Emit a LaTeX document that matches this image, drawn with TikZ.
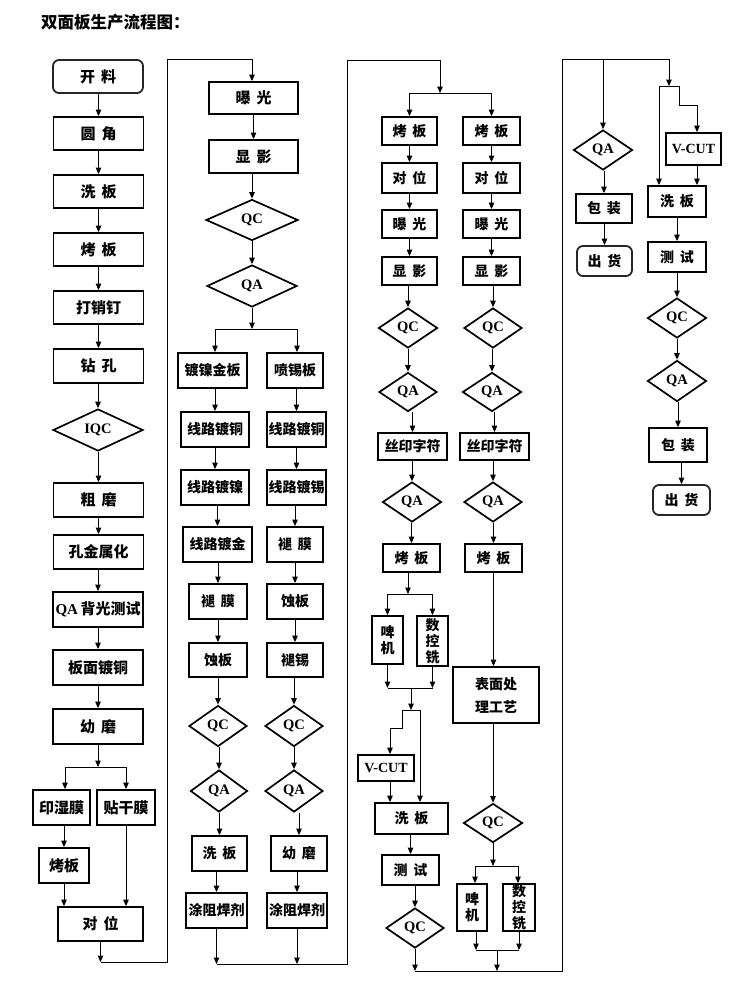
\documentclass[tikz,border=0pt]{standalone}
\usepackage{fontspec}
\setmainfont{Liberation Serif}
\newfontfamily\cjk{Noto Sans CJK SC}
\usetikzlibrary{shapes.geometric,arrows.meta}
\newcommand\ksp{\hspace{6pt}}
\newcommand\mybox[7]{\node[#1,minimum width=#5pt,minimum height=#6pt] (#2) at (#3,#4) {#7};}
\newcommand\mydia[6]{\node[dia,minimum width=#4pt,minimum height=#5pt] (#1) at (#2,#3) {#6};}
\newcommand\vdown[2]{\draw[arr] (#2.north |- #1.south) -- (#2.north);}
\tikzset{
 bx/.style={draw, line width=1.8pt, inner sep=0pt, align=center,
   font=\cjk\bfseries\fontsize{14}{16}\selectfont},
 bxa/.style={bx, font=\cjk\bfseries\fontsize{15}{17}\selectfont},
 rbx/.style={bx, rounded corners=6pt, draw=black!85},
 rbxa/.style={bxa, rounded corners=6pt, draw=black!85},
 lbx/.style={bx, font=\rmfamily\bfseries\fontsize{14}{16}\selectfont},
 dia/.style={diamond, draw, line width=1.7pt, inner sep=0pt,
   font=\rmfamily\bfseries\fontsize{14.5}{16}\selectfont},
 ln/.style={line width=1pt},
 arr/.style={line width=1pt, -{Triangle[length=6.5pt,width=5.5pt]}},
}
\begin{document}
\begin{tikzpicture}[x=1pt,y=-1pt]
\useasboundingbox[fill=white] (0,0) rectangle (750,989);
\node[anchor=west, inner sep=0pt, font=\cjk\bfseries\fontsize{16.5}{19}\selectfont] (title) at (41,22) {双面板生产流程图：};

% ---------------- column 1
\mybox{rbxa}{kl}{98}{76.5}{90}{33}{开\ksp 料}
\mybox{bxa}{yj}{98.5}{133.5}{90}{33}{圆\ksp 角}
\mybox{bxa}{xb1}{98.5}{191.5}{90}{33}{洗\ksp 板}
\mybox{bxa}{kb1}{98.5}{249.5}{90}{33}{烤\ksp 板}
\mybox{bxa}{dxd}{98.5}{307.5}{90}{33}{打销钉}
\mybox{bxa}{zk}{98.5}{366}{90}{34}{钻\ksp 孔}
\mydia{iqc}{98}{430}{90}{42}{IQC}
\mybox{bxa}{cm}{98.5}{500}{90}{34}{粗\ksp 磨}
\mybox{bxa}{jsh}{98.5}{552}{90}{34}{孔金属化}
\mybox{bxa}{qabg}{98}{609.5}{90}{35}{{\rmfamily\bfseries QA}\,背光测试}
\mybox{bxa}{bmdt}{98}{667.5}{90}{35}{板面镀铜}
\mybox{bxa}{ym1}{98}{726.5}{90}{35}{幼\ksp 磨}
\mybox{bxa}{ysm}{61.5}{807.5}{57}{35}{印湿膜}
\mybox{bxa}{tgm}{126}{807.5}{58}{35}{贴干膜}
\mybox{bxa}{kb1b}{64}{865.5}{50}{35}{烤板}
\mybox{bxa}{dw1}{100.5}{924}{85}{34}{对\ksp 位}

\vdown{kl}{yj}\vdown{yj}{xb1}\vdown{xb1}{kb1}\vdown{kb1}{dxd}\vdown{dxd}{zk}
\vdown{zk}{iqc}\vdown{iqc}{cm}\vdown{cm}{jsh}\vdown{jsh}{qabg}\vdown{qabg}{bmdt}
\vdown{bmdt}{ym1}
\coordinate (s1) at (98,767);
\coordinate (s1l) at (65,767);
\coordinate (s1r) at (126,767);
\draw[arr] (ym1.south) -- (s1);
\draw[ln] (s1l) -- (s1r);
\draw[arr] (s1l) -- (s1l |- ysm.north);
\draw[arr] (s1r) -- (s1r |- tgm.north);
\draw[arr] (kb1b.north |- ysm.south) -- (kb1b.north);
\draw[arr] (kb1b.south) -- (kb1b.south |- dw1.north);
\draw[arr] (tgm.south) -- (tgm.south |- dw1.north);
\coordinate (y1) at (0,962);
\draw[arr] (dw1.south) -- (dw1.south |- y1);
\coordinate (t1) at (252,59);
\draw[ln] (dw1.south |- y1) -- (167,962) -- (167,59) -- (t1);

% ---------------- column 2
\mybox{bxa}{bg}{253.5}{98}{89}{32}{曝\ksp 光}
\mybox{bxa}{xy}{253.5}{156.5}{89}{33}{显\ksp 影}
\mydia{qc2}{252}{220}{92}{41}{QC}
\mydia{qa2}{252}{286}{90}{42}{QA}
\draw[arr] (t1) -- (t1 |- bg.north);
\vdown{bg}{xy}\vdown{xy}{qc2}\vdown{qc2}{qa2}
\coordinate (s2) at (252,329);
\coordinate (s2l) at (215,329);
\coordinate (s2r) at (297,329);
\draw[arr] (qa2.south) -- (s2);
\draw[ln] (s2l) -- (s2r);

\mybox{bx}{dnjb}{212.5}{370.5}{69}{35}{镀镍金板}
\mybox{bx}{xldt1}{215}{429.5}{68}{35}{线路镀铜}
\mybox{bx}{xldn}{215}{487.5}{68}{35}{线路镀镍}
\mybox{bx}{xldj}{217.5}{544.5}{69}{35}{线路镀金}
\mybox{bx}{tm1}{218}{601.5}{58}{35}{褪\ksp 膜}
\mybox{bx}{sb1}{218}{660}{58}{34}{蚀板}
\mydia{qc2l}{218}{726}{58}{41}{QC}
\mydia{qa2l}{219}{791}{57}{42}{QA}
\mybox{bx}{xb2}{219.5}{853.5}{55}{35}{洗\ksp 板}
\mybox{bx}{tzh1}{216.5}{910.5}{61}{35}{涂阻焊剂}

\mybox{bx}{pxb}{295}{370.5}{56}{35}{喷锡板}
\mybox{bx}{xldt2}{296.5}{429.5}{59}{35}{线路镀铜}
\mybox{bx}{xldx}{296.5}{487.5}{59}{35}{线路镀锡}
\mybox{bx}{tm2}{295}{544.5}{56}{35}{褪\ksp 膜}
\mybox{bx}{sb2}{295}{601.5}{56}{35}{蚀板}
\mybox{bx}{tx}{295}{660}{56}{34}{褪锡}
\mydia{qc2r}{294}{726}{58}{41}{QC}
\mydia{qa2r}{294}{791}{58}{42}{QA}
\mybox{bx}{ym2}{299}{853.5}{56}{35}{幼\ksp 磨}
\mybox{bx}{tzh2}{297}{910.5}{60}{35}{涂阻焊剂}

\draw[arr] (s2l) -- (s2l |- dnjb.north);
\draw[arr] (s2r) -- (s2r |- pxb.north);
\vdown{dnjb}{xldt1}\vdown{xldt1}{xldn}\vdown{xldn}{xldj}\vdown{xldj}{tm1}
\vdown{tm1}{sb1}\vdown{sb1}{qc2l}\vdown{qc2l}{qa2l}\vdown{qa2l}{xb2}\vdown{xb2}{tzh1}
\vdown{pxb}{xldt2}\vdown{xldt2}{xldx}\vdown{xldx}{tm2}\vdown{tm2}{sb2}
\vdown{sb2}{tx}\vdown{tx}{qc2r}\vdown{qc2r}{qa2r}\vdown{qa2r}{ym2}\vdown{ym2}{tzh2}

\coordinate (y2) at (0,964);
\draw[arr] (tzh1.south) -- (tzh1.south |- y2);
\draw[arr] (tzh2.south) -- (tzh2.south |- y2);
\coordinate (t2) at (440,60);
\draw[ln] (tzh1.south |- y2) -- (347,964) -- (347,60) -- (t2);
\coordinate (s3) at (440,93);
\draw[arr] (t2) -- (s3);

% ---------------- column 3
\mybox{bx}{kb3l}{409.5}{131}{55}{28}{烤\ksp 板}
\mybox{bx}{kb3r}{491.5}{131}{57}{28}{烤\ksp 板}
\mybox{bx}{dw3l}{409.5}{178}{55}{30}{对\ksp 位}
\mybox{bx}{dw3r}{491.5}{178}{57}{30}{对\ksp 位}
\mybox{bx}{bg3l}{409.5}{224}{55}{28}{曝\ksp 光}
\mybox{bx}{bg3r}{491.5}{224}{57}{28}{曝\ksp 光}
\mybox{bx}{xy3l}{409.5}{271}{55}{28}{显\ksp 影}
\mybox{bx}{xy3r}{491.5}{271}{57}{28}{显\ksp 影}
\mydia{qc3l}{408}{328}{59}{40}{QC}
\mydia{qc3r}{493}{328}{58}{40}{QC}
\mydia{qa3l}{408}{392}{58}{39}{QA}
\mydia{qa3r}{492}{392}{59}{39}{QA}
\mybox{bx}{sy3l}{412.5}{446.5}{69}{27}{丝印字符}
\mybox{bx}{sy3r}{494.5}{446.5}{69}{27}{丝印字符}
\mydia{qa3l2}{412}{502}{59}{40}{QA}
\mydia{qa3r2}{493}{502}{58}{40}{QA}
\mybox{bx}{kb3l2}{411.5}{558}{57}{28}{烤\ksp 板}
\mybox{bx}{kb3r2}{493.5}{558}{57}{28}{烤\ksp 板}

\coordinate (s3l) at (409.5,93);
\coordinate (s3r) at (491.5,93);
\draw[ln] (s3l) -- (s3r);
\draw[arr] (s3l) -- (s3l |- kb3l.north);
\draw[arr] (s3r) -- (s3r |- kb3r.north);
\vdown{kb3l}{dw3l}\vdown{dw3l}{bg3l}\vdown{bg3l}{xy3l}\vdown{xy3l}{qc3l}\vdown{qc3l}{qa3l}
\vdown{qa3l}{sy3l}\vdown{sy3l}{qa3l2}\vdown{qa3l2}{kb3l2}
\vdown{kb3r}{dw3r}\vdown{dw3r}{bg3r}\vdown{bg3r}{xy3r}\vdown{xy3r}{qc3r}\vdown{qc3r}{qa3r}
\vdown{qa3r}{sy3r}\vdown{sy3r}{qa3r2}\vdown{qa3r2}{kb3r2}

\mybox{bx}{pj3l}{387.5}{640}{31}{48}{啤\\机}
\mybox{bx}{skx3l}{432.5}{641}{31}{50}{数\\控\\铣}
\coordinate (s4) at (408,594);
\draw[arr] (s4 |- kb3l2.south) -- (s4);
\draw[ln] (pj3l.north |- s4) -- (skx3l.north |- s4);
\draw[arr] (pj3l.north |- s4) -- (pj3l.north);
\draw[arr] (skx3l.north |- s4) -- (skx3l.north);
\coordinate (m4) at (411,688);
\draw[arr] (pj3l.south) -- (pj3l.south |- m4);
\draw[arr] (skx3l.south) -- (skx3l.south |- m4);
\draw[ln] (pj3l.south |- m4) -- (skx3l.south |- m4);
\coordinate (m4b) at (411,710);
\draw[arr] (m4) -- (m4b);
\coordinate (m4l) at (402,710);
\coordinate (m4r) at (420,710);
\draw[ln] (m4l) -- (m4r);

\mybox{lbx}{vcut3}{386}{768}{56}{26}{V-CUT}
\mybox{bx}{xb3}{411.5}{818.5}{73}{31}{洗\ksp 板}
\mybox{bx}{cs3}{410.5}{870}{57}{30}{测\ksp 试}
\mydia{qc3b}{415}{928}{58}{40}{QC}
\coordinate (v3) at (390,728);
\draw[arr] (m4l) -- (402,728) -- (v3) -- (v3 |- vcut3.north);
\draw[arr] (m4r) -- (m4r |- xb3.north);
\draw[arr] (v3 |- vcut3.south) -- (v3 |- xb3.north);
\vdown{xb3}{cs3}\vdown{cs3}{qc3b}

\mybox{bx}{bmcl}{496}{695}{86}{56}{表面处\\[7pt]理工艺}
\mydia{qc3r2}{493}{823}{59}{39}{QC}
\draw[arr] (kb3r2.south) -- (kb3r2.south |- bmcl.north);
\draw[arr] (qc3r2.north |- bmcl.south) -- (qc3r2.north);
\mybox{bx}{pj3r}{472}{907.5}{30}{47}{啤\\机}
\mybox{bx}{skx3r}{519}{907.5}{32}{47}{数\\控\\铣}
\coordinate (s5) at (493,866);
\coordinate (s5l) at (475,866);
\coordinate (s5r) at (518,866);
\draw[arr] (qc3r2.south) -- (s5);
\draw[ln] (s5l) -- (s5r);
\draw[arr] (s5l) -- (s5l |- pj3r.north);
\draw[arr] (s5r) -- (s5r |- skx3r.north);
\coordinate (m5l) at (476,950);
\coordinate (m5r) at (519,950);
\coordinate (m5) at (497,950);
\draw[arr] (m5l |- pj3r.south) -- (m5l);
\draw[arr] (m5r |- skx3r.south) -- (m5r);
\draw[ln] (m5l) -- (m5r);
\coordinate (y3) at (0,971);
\draw[arr] (m5) -- (m5 |- y3);
\draw[arr] (qc3b.south) -- (qc3b.south |- y3);
\coordinate (t3) at (669,59);
\draw[ln] (qc3b.south |- y3) -- (562,971) -- (562,59) -- (t3);

% ---------------- column 4
\mydia{qa4}{603}{150}{59}{40}{QA}
\mybox{bx}{bz4a}{604}{208.5}{56}{29}{包\ksp 装}
\mybox{rbx}{ch4a}{604.5}{261}{55}{30}{出\ksp 货}
\draw[arr] (qa4.north |- t3) -- (qa4.north);
\vdown{qa4}{bz4a}\vdown{bz4a}{ch4a}

\mybox{lbx}{vcut4}{693.5}{149}{55}{32}{V-CUT}
\mybox{bx}{xb4}{677}{201.5}{58}{31}{洗\ksp 板}
\mybox{bx}{cs4}{677}{257}{58}{30}{测\ksp 试}
\mydia{qc4}{677}{318}{59}{40}{QC}
\mydia{qa4b}{677}{381}{59}{41}{QA}
\mybox{bx}{bz4b}{678}{445}{58}{34}{包\ksp 装}
\mybox{rbx}{ch4b}{681.5}{500}{57}{30}{出\ksp 货}
\coordinate (s6) at (669,86);
\coordinate (s6l) at (659,86);
\coordinate (s6r) at (679,86);
\draw[arr] (t3) -- (s6);
\draw[ln] (s6l) -- (s6r);
\draw[arr] (s6l) -- (s6l |- xb4.north);
\coordinate (v4) at (697,105);
\draw[arr] (s6r) -- (679,105) -- (v4) -- (v4 |- vcut4.north);
\draw[arr] (v4 |- vcut4.south) -- (v4 |- xb4.north);
\vdown{xb4}{cs4}\vdown{cs4}{qc4}\vdown{qc4}{qa4b}\vdown{qa4b}{bz4b}\vdown{bz4b}{ch4b}
\end{tikzpicture}
\end{document}
